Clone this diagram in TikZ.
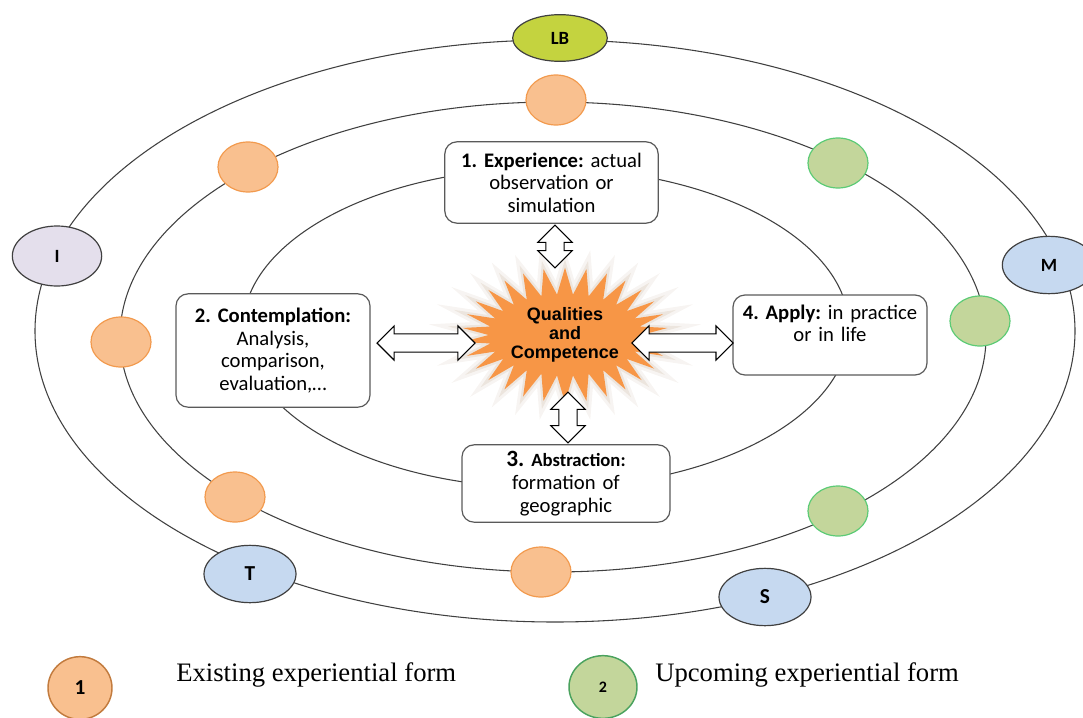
\documentclass[tikz,border=0pt]{standalone}
\usepackage{fontspec}
\setmainfont{Carlito}
\newfontfamily\arialfont{Liberation Sans}
\newfontfamily\timesfont{Liberation Serif}
\usetikzlibrary{shapes.geometric,shapes.symbols,shapes.arrows}
\frenchspacing

\definecolor{orbitline}{HTML}{404040}
\definecolor{boxline}{HTML}{5A5A5A}
\definecolor{oldfill}{HTML}{F9C08F}
\definecolor{olddraw}{HTML}{F29A4E}
\definecolor{newfill}{HTML}{C3D69B}
\definecolor{newdraw}{HTML}{5CCB76}
\definecolor{lbfill}{HTML}{C4D33F}
\definecolor{ifill}{HTML}{E4DFEC}
\definecolor{bluefill}{HTML}{C6D9F0}
\definecolor{starfill}{HTML}{F79646}
\definecolor{starglow}{HTML}{C0A890}

\begin{document}
\begin{tikzpicture}[x=0.75pt,y=-0.75pt,
  orbit/.style={draw=orbitline, line width=0.8pt},
  stage/.style={draw=boxline, fill=white, rounded corners=9pt, line width=0.9pt,
    align=center, inner sep=3pt, font=\fontsize{15.5}{17}\selectfont},
  oldform/.style={ellipse, draw=olddraw, fill=oldfill, line width=0.9pt,
    minimum width=45pt, minimum height=37.5pt, inner sep=0pt},
  newform/.style={ellipse, draw=newdraw, fill=newfill, line width=0.9pt,
    minimum width=45pt, minimum height=37.5pt, inner sep=0pt},
  planet/.style={ellipse, draw=orbitline, line width=0.9pt, minimum width=69pt,
    minimum height=43pt, inner sep=0pt, font=\bfseries\fontsize{14}{14}\selectfont},
  link/.style={double arrow, draw=black, fill=white, line width=0.8pt,
    inner xsep=0pt, inner ysep=6.5pt, double arrow head extend=6pt},
  keytext/.style={anchor=base west, inner sep=0pt, font=\timesfont\fontsize{20}{20}\selectfont}
]
\useasboundingbox (0,0) rectangle (1083,718);

% three orbits
\draw[orbit] (555,331) ellipse [x radius=520, y radius=291];
\draw[orbit] (553,337) ellipse [x radius=433, y radius=235];
\draw[orbit] (546,328) ellipse [x radius=303, y radius=160];

% outer orbit
\node[planet, fill=lbfill, minimum width=71pt, minimum height=35pt] (lb) at (560,38) {LB};
\node[planet, fill=ifill, minimum width=67pt, minimum height=45pt] (i) at (57,256) {I};
\node[planet, fill=bluefill, minimum width=70pt, minimum height=43pt] (m) at (1049,265) {M};
\node[planet, fill=bluefill, font=\bfseries\fontsize{16}{16}\selectfont] (t) at (250,574) {T};
\node[planet, fill=bluefill, font=\bfseries\fontsize{16}{16}\selectfont] (s) at (765,597) {S};

% middle orbit
\node[oldform] (o1) at (556,100) {};
\node[oldform] (o2) at (248,167) {};
\node[oldform] (o3) at (121,342) {};
\node[oldform] (o4) at (235,497) {};
\node[oldform] (o5) at (541,572) {};
\node[newform] (n1) at (838,163) {};
\node[newform] (n2) at (980,321) {};
\node[newform] (n3) at (838,511) {};

% four stages
\node[stage, text width=150pt, minimum width=160pt, minimum height=61pt] (exper) at (551.5,182.5)
  {\textbf{1. Experience:} actual\\observation or\\simulation};
\node[stage, text width=136pt, minimum width=145.5pt, minimum height=85pt] (contemp) at (273,350.5)
  {\textbf{2. Contemplation:}\\Analysis,\\comparison,\\evaluation,\ldots};
\node[stage, text width=146pt, minimum width=156pt, minimum height=58pt] (abstr) at (566,483.5)
  {{\bfseries\fontsize{17.5}{17}\selectfont 3.} \textbf{\fontsize{14}{17}\selectfont Abstraction:}\\formation of\\geographic};
\node[stage, text width=136pt, minimum width=145.5pt, text height=15pt, text depth=39pt] (apply) at (830,335)
  {\textbf{4. Apply:} in practice\\or in life};

% centre
\node[starburst, starburst points=30, starburst point height=20pt, random starburst=0,
  fill=starfill, minimum width=152pt, minimum height=101pt, inner sep=0pt,
  preaction={draw=starglow, draw opacity=0.12, line width=8pt},
  preaction={draw=starglow, draw opacity=0.2, line width=3.5pt},
  align=center, font=\arialfont\bfseries\fontsize{13.5}{14}\selectfont] (core) at (565,335)
  {Qualities\\and\\Competence};

\node[link, minimum height=32pt, rotate=90] (a1) at (555,246.5) {};
\node[link, minimum height=73.5pt] (a2) at (426,343) {};
\node[link, minimum height=76pt] (a4) at (682.5,343) {};
\node[link, minimum height=38pt, rotate=90] (a3) at (568,417.5) {};

% legend
\node[oldform, draw=olddraw!80!black, line width=1.1pt, minimum width=48pt, minimum height=47pt,
  font=\bfseries\fontsize{16}{16}\selectfont] (key1) at (80,688) {1};
\node[keytext] (key1text) at (176,681) {Existing experiential form};
\node[newform, draw=newdraw!80!black, line width=1.1pt, minimum width=51pt, minimum height=47pt,
  font=\bfseries\fontsize{12}{12}\selectfont] (key2) at (603,687) {2};
\node[keytext] (key2text) at (655,681) {Upcoming experiential form};
\end{tikzpicture}
\end{document}
